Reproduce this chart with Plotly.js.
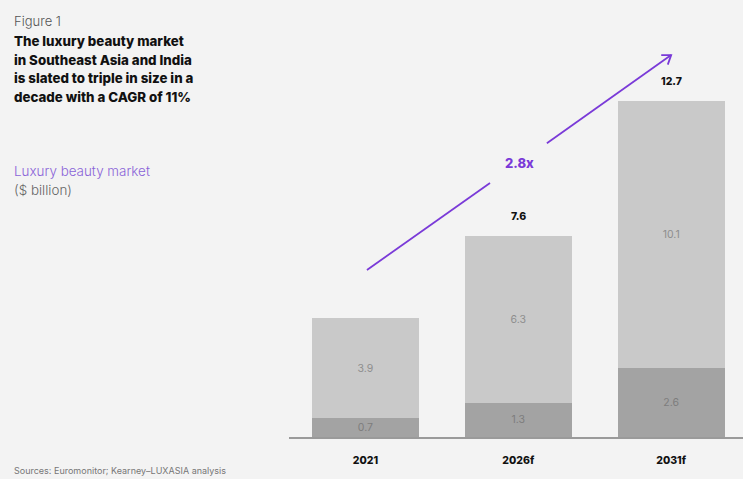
<!DOCTYPE html>
<html><head><meta charset="utf-8">
<script src="https://cdn.plot.ly/plotly-3.0.1.min.js"></script>
<style>html,body{margin:0;padding:0;background:#f3f3f3;}#chart{width:743px;height:479px;}</style>
</head><body><div id="chart"></div>
<script>
const years = ["2021", "2026f", "2031f"];
const totals = [4.5, 7.6, 12.7];
const darkValues = [0.7, 1.3, 2.6];
const lightLabels = [3.9, 6.3, 10.1];

const lightHeights = totals.map((t, i) => +(t - darkValues[i]).toFixed(2));

const F = "Inter, 'Noto Sans', Roboto, sans-serif";
const purple = "#7a3ad8";

const traces = [
  {type: "bar", x: years, y: darkValues, marker: {color: "#a3a3a3"},
   text: darkValues.map(v => v.toFixed(1)), textposition: "inside", insidetextanchor: "middle",
   textfont: {family: F, size: 10.5, color: "#7d7d7d"}, constraintext: "none", width: 0.7, hoverinfo: "skip"},
  {type: "bar", x: years, y: lightHeights, marker: {color: "#c9c9c9"},
   text: lightLabels.map(v => v.toFixed(1)), textposition: "inside", insidetextanchor: "middle",
   textfont: {family: F, size: 10.5, color: "#8e8e8e"}, constraintext: "none", width: 0.7, hoverinfo: "skip"}
];

const px = v => (v - 289) / 454;   // paper x helper
const py = v => (437 - v) / 397;   // paper y helper

const annotations = totals.map((t, i) => ({
  x: years[i], y: t, xref: "x", yref: "y", text: t.toFixed(1),
  showarrow: false, yanchor: "middle", yshift: 19, font: {family: F, size: 10.5, color: "#111", weight: 800}
}));

const titleLines = ["The luxury beauty market", "in Southeast Asia and India", "is slated to triple in size in a", "decade with a CAGR of 11%"];
annotations.push({xref: "paper", yref: "paper", x: px(12), y: py(21), xanchor: "left", yanchor: "middle",
  text: "Figure 1", showarrow: false, font: {family: F, size: 13, color: "#555", weight: 300}});
titleLines.forEach((l, i) => annotations.push({xref: "paper", yref: "paper", x: px(12), y: py(41 + i * 18.7),
  xanchor: "left", yanchor: "middle", text: l, showarrow: false,
  font: {family: F, size: 13.3, color: "#111", weight: 800}}));
annotations.push({xref: "paper", yref: "paper", x: px(12), y: py(171), xanchor: "left", yanchor: "middle",
  text: "Luxury beauty market", showarrow: false, font: {family: F, size: 13.4, color: "#8a64d8", weight: 300}});
annotations.push({xref: "paper", yref: "paper", x: px(12), y: py(190), xanchor: "left", yanchor: "middle",
  text: "($ billion)", showarrow: false, font: {family: F, size: 13.4, color: "#666", weight: 300}});
annotations.push({xref: "paper", yref: "paper", x: px(12), y: py(470), xanchor: "left", yanchor: "middle",
  text: "Sources: Euromonitor; Kearney–LUXASIA analysis", showarrow: false, font: {family: F, size: 9, color: "#777"}});
annotations.push({xref: "x", yref: "y", x: 1.01, y: 10.35, text: "2.8x", showarrow: false,
  font: {family: F, size: 13, color: purple, weight: 800}});

const lineStyle = {color: purple, width: 1.8};
const shapes = [
  {type: "line", xref: "x", yref: "y", x0: 0.01, y0: 6.31, x1: 0.815, y1: 9.6, line: lineStyle},
  {type: "line", xref: "x", yref: "y", x0: 1.187, y0: 11.1, x1: 2.0, y1: 14.43, line: lineStyle},
  {type: "path", xref: "x", yref: "y", path: "M 1.935 14.43 L 2.0 14.43 L 1.978 14.07", line: lineStyle}
];

const layout = {
  width: 743, height: 479, margin: {l: 289, r: 0, t: 40, b: 42},
  paper_bgcolor: "#f3f3f3", plot_bgcolor: "#f3f3f3", barmode: "stack", showlegend: false,
  xaxis: {type: "category", range: [-0.5, 2.47], showline: true, linecolor: "#9a9a9a", linewidth: 1.5,
    ticks: "outside", ticklen: 13, tickcolor: "rgba(0,0,0,0)", tickfont: {family: F, size: 10.5, color: "#111", weight: 800},
    showgrid: false, zeroline: false, fixedrange: true},
  yaxis: {range: [0, 15], visible: false, showgrid: false, zeroline: false, fixedrange: true},
  annotations: annotations, shapes: shapes
};

Plotly.newPlot("chart", traces, layout, {displayModeBar: false, staticPlot: true});
</script></body></html>
